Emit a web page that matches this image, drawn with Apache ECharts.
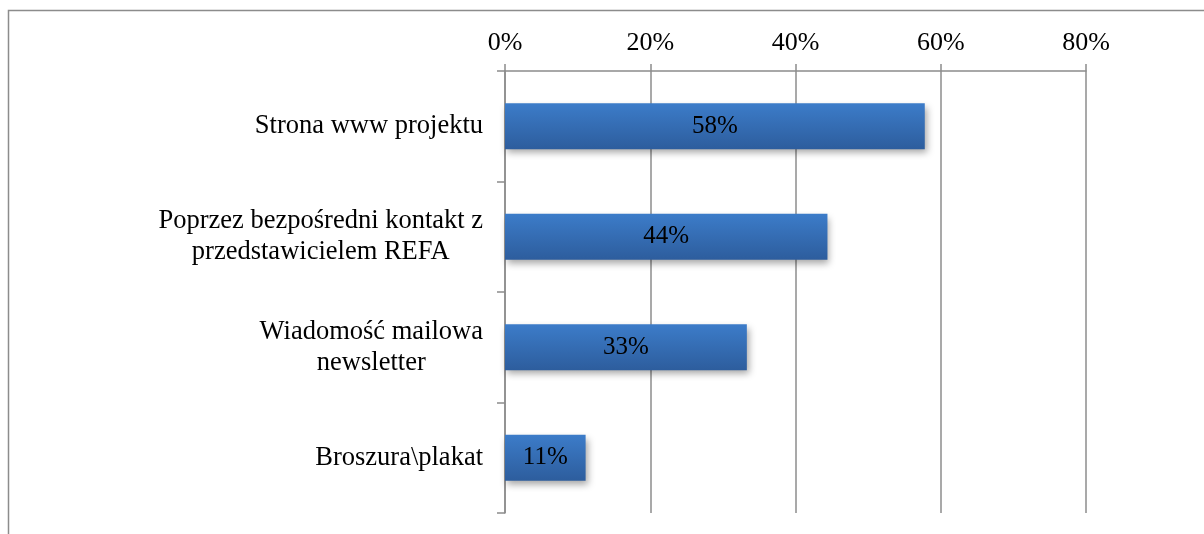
<!DOCTYPE html>
<html>
<head>
<meta charset="utf-8">
<script src="https://cdn.jsdelivr.net/npm/echarts@6/dist/echarts.min.js"></script>
<style>
  html, body { margin: 0; padding: 0; background: #fff; }
  #main { width: 1204px; height: 534px; }
</style>
</head>
<body>
<div id="main"></div>
<script>
// dane z wykresu
var categories = ['Strona www projektu', 'Poprzez bezpośredni kontakt z\nprzedstawicielem REFA', 'Wiadomość mailowa\nnewsletter', 'Broszura\\plakat'];
var values = [57.8, 44.4, 33.3, 11.1];
var labels = ['58%', '44%', '33%', '11%'];
var xTicks = [0, 20, 40, 60, 80];

var font = '"Liberation Serif", "Times New Roman", serif';
var chart = echarts.init(document.getElementById('main'));

var option = {
  backgroundColor: '#ffffff',
  animation: false,
  graphic: [{
    type: 'rect',
    shape: { x: 8.5, y: 10.5, width: 1400, height: 800 },
    style: { fill: 'none', stroke: '#8c8c8c', lineWidth: 1.5 },
    silent: true
  }],
  grid: { left: 505, right: 118, top: 71, bottom: 21 },
  xAxis: {
    type: 'value',
    position: 'top',
    min: xTicks[0],
    max: xTicks[xTicks.length - 1],
    interval: 20,
    axisLine: { show: true, lineStyle: { color: '#8c8c8c', width: 1.5 } },
    axisTick: { show: true, length: 7, lineStyle: { color: '#8c8c8c', width: 1.5 } },
    splitLine: { show: true, lineStyle: { color: '#8c8c8c', width: 1.5 } },
    axisLabel: {
      margin: 15,
      color: '#000',
      fontFamily: font,
      fontSize: 26,
      formatter: function (v) { return v + '%'; }
    }
  },
  yAxis: {
    type: 'category',
    inverse: true,
    data: categories,
    axisLine: { show: true, lineStyle: { color: '#8c8c8c', width: 1.5 } },
    axisTick: { show: true, length: 8, lineStyle: { color: '#8c8c8c', width: 1.5 } },
    axisLabel: {
      margin: 22,
      align: 'right',
      formatter: function (v) {
        // kazda linia wysrodkowana w bloku
        return v.split('\n').map(function (s) { return '{c|' + s + '}'; }).join('\n');
      },
      rich: {
        c: {
          align: 'center',
          color: '#000',
          fontFamily: font,
          fontSize: 26.5,
          lineHeight: 31
        }
      }
    }
  },
  series: [{
    type: 'bar',
    barWidth: 46,
    data: values,
    itemStyle: {
      color: new echarts.graphic.LinearGradient(0, 0, 0, 1, [
        { offset: 0, color: '#3c7cc9' },
        { offset: 1, color: '#2d5d9d' }
      ]),
      shadowBlur: 7,
      shadowOffsetX: 2,
      shadowOffsetY: 4,
      shadowColor: 'rgba(0,0,0,0.35)'
    },
    label: {
      show: true,
      position: 'inside',
      color: '#000',
      fontFamily: font,
      fontSize: 25,
      formatter: function (p) { return labels[p.dataIndex]; }
    }
  }]
};

chart.setOption(option);
</script>
</body>
</html>
